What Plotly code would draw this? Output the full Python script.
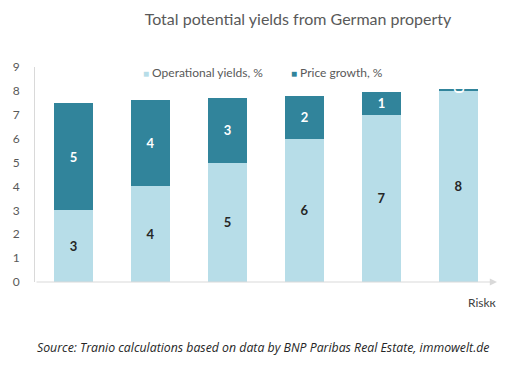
import plotly.graph_objects as go

categories = ["A", "B", "C", "D", "E", "F"]
operational = [3, 4, 5, 6, 7, 8]
price_growth = [4.5, 3.6, 2.7, 1.8, 0.95, 0.1]
y_ticks = [0, 1, 2, 3, 4, 5, 6, 7, 8, 9]
series_names = ["Operational yields, %", "Price growth, %"]

light = "#b7dde8"
dark = "#31849b"
font_family = "Lato, 'Open Sans', sans-serif"

fig = go.Figure()
fig.add_trace(go.Bar(
    x=categories, y=operational, name=series_names[0],
    marker=dict(color=light, line=dict(width=0)),
    texttemplate="%{y:.0f}", textposition="inside", insidetextanchor="middle",
    textfont=dict(color="#262626", size=13, family=font_family, weight="bold"),
    constraintext="none", showlegend=False,
))
fig.add_trace(go.Bar(
    x=categories, y=price_growth, name=series_names[1],
    marker=dict(color=dark, line=dict(width=0)),
    texttemplate="%{y:.0f}", textposition="inside", insidetextanchor="middle",
    textfont=dict(color="white", size=13, family=font_family, weight="bold"),
    constraintext="none", showlegend=False,
))

fig.update_layout(
    width=503, height=359,
    barmode="stack", bargap=0.5,
    plot_bgcolor="white", paper_bgcolor="white",
    margin=dict(l=27, r=14, t=59, b=85, autoexpand=False),
    font=dict(family=font_family, color="#595959", size=12),
    uniformtext=dict(mode="show", minsize=13),
    title=dict(text="Total potential yields from German property",
               x=290 / 503, xanchor="center", y=1 - 11 / 359, yanchor="middle",
               font=dict(size=16, color="#595959", family=font_family)),
    showlegend=False,
)
fig.update_xaxes(showticklabels=False, showline=False, showgrid=False, zeroline=False,
                 automargin=False)
fig.update_yaxes(range=[0, 9], tickvals=y_ticks, showgrid=False, zeroline=False,
                 showline=True, linecolor="#d9d9d9", linewidth=1, ticks="",
                 tickfont=dict(size=12, color="#595959"), ticklabelstandoff=12,
                 automargin=False)

# legend drawn as text with square markers
for name, color, xp in [(series_names[0], light, (141 - 35) / 462),
                        (series_names[1], dark, (289 - 35) / 462)]:
    fig.add_annotation(x=xp, y=(282 - 72) / 215, xref="paper", yref="paper",
                       text=f"<span style='color:{color};font-size:10px'>■</span> {name}",
                       showarrow=False, xanchor="left", yanchor="middle",
                       font=dict(size=12, color="#595959"))

# x axis with arrow
fig.add_annotation(x=1.0, y=0, xref="paper", yref="y", ax=-462, ay=0,
                   axref="pixel", ayref="pixel", text="", showarrow=True,
                   arrowhead=2, arrowsize=1.2, arrowwidth=1.2, arrowcolor="#d9d9d9")
fig.add_annotation(x=(499 - 35) / 462, y=-20 / 215, xref="paper", yref="paper", text="Riskк",
                   showarrow=False, xanchor="right", yanchor="middle",
                   font=dict(size=12, color="#404040"))
fig.add_annotation(x=(263 - 35) / 462, y=-65 / 215, xref="paper", yref="paper",
                   text="<i>Source: Tranio calculations based on data by BNP Paribas Real Estate, immowelt.de</i>",
                   showarrow=False, xanchor="center", yanchor="middle",
                   font=dict(size=12.3, color="#262626", family="'Open Sans', sans-serif"))

fig.write_html("out.html")
